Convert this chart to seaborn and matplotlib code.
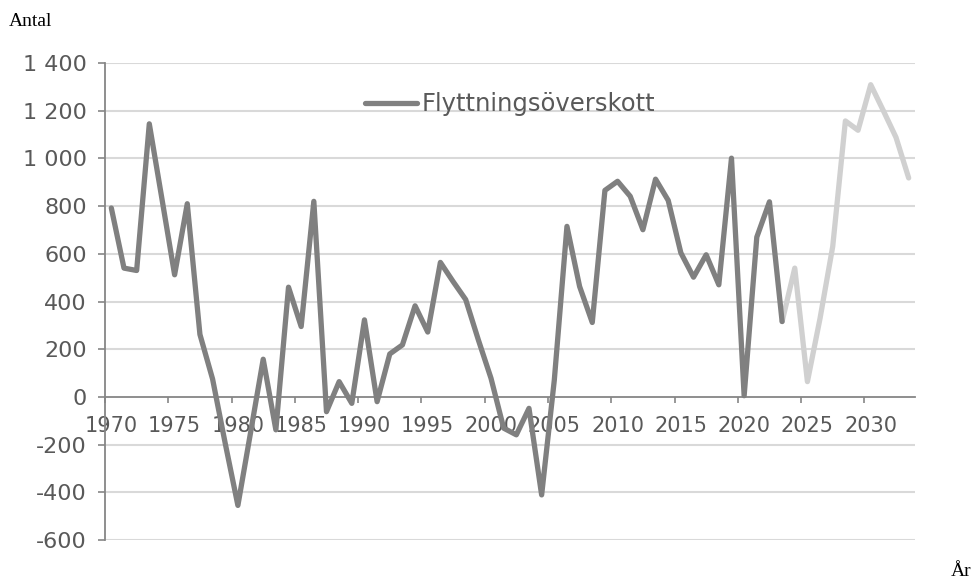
import matplotlib
matplotlib.use("Agg")
import matplotlib.pyplot as plt
import matplotlib.ticker as mticker
import seaborn as sns
import pandas as pd

# ---- data ----
hist_years = list(range(1970, 2024))
hist_values = [792, 540, 530, 1145, 830, 512, 810, 262, 75, -195,
               -455, -150, 158, -138, 460, 295, 820, -62, 64, -27,
               323, -20, 180, 218, 382, 272, 564, 484, 408, 239,
               78, -131, -159, -48, -411, 70, 715, 463, 312, 866,
               904, 841, 701, 913, 824, 604, 502, 596, 470, 1001,
               5, 670, 818, 316]
proj_years = list(range(2023, 2034))
proj_values = [316, 540, 64, 330, 631, 1157, 1118, 1309, 1200, 1088, 918]
series_label = "Flyttningsöverskott"
y_label = "Antal"
x_label = "År"
y_ticks = [-600, -400, -200, 0, 200, 400, 600, 800, 1000, 1200, 1400]
x_label_years = list(range(1970, 2031, 5))

hist_df = pd.DataFrame({"year": hist_years, "value": hist_values})
proj_df = pd.DataFrame({"year": proj_years, "value": proj_values})

sns.set_style("white")
plt.rcParams["font.family"] = ["DejaVu Sans"]

fig = plt.figure(figsize=(9.74, 5.83), dpi=100)
ax = fig.add_axes([105 / 974, 1 - 540 / 583, 810 / 974, 477 / 583])

grid_c = "#d9d9d9"
axis_c = "#868686"
text_c = "#595959"

for v in y_ticks:
    if v != 0:
        ax.axhline(v, color=grid_c, lw=1.5, zorder=0)

sns.lineplot(data=proj_df, x="year", y="value", ax=ax, color="#d0d0d0",
             lw=3.8, zorder=3, legend=False,
             solid_capstyle="round", solid_joinstyle="round")
sns.lineplot(data=hist_df, x="year", y="value", ax=ax, color="#808080",
             lw=3.8, zorder=4, label=series_label,
             solid_capstyle="round", solid_joinstyle="round")

ax.set_xlim(1969.5, 2033.5)
ax.set_ylim(-600, 1400)

# y axis
ax.set_yticks(y_ticks)
ax.yaxis.set_major_formatter(mticker.FuncFormatter(
    lambda v, p: f"{int(v):,}".replace(",", " ")))
ax.tick_params(axis="y", which="major", length=5, width=1.2, color=axis_c,
               labelsize=16, labelcolor=text_c, pad=8, left=True)

# x axis: spine at zero, ticks between categories, labels at categories
ax.spines["bottom"].set_position(("data", 0))
ax.set_xticks(x_label_years)
ax.set_xticklabels([str(y) for y in x_label_years])
ax.set_xticks([y - 0.5 for y in x_label_years], minor=True)
ax.tick_params(axis="x", which="major", length=0, labelsize=15,
               labelcolor=text_c, pad=14)
ax.tick_params(axis="x", which="minor", length=4, width=1.2, color=axis_c,
               bottom=True, direction="out")

for s in ["top", "right"]:
    ax.spines[s].set_visible(False)
for s in ["left", "bottom"]:
    ax.spines[s].set_color(axis_c)
    ax.spines[s].set_linewidth(1.3)
ax.set_xlabel("")
ax.set_ylabel("")

leg = ax.legend(loc="center left", bbox_to_anchor=(0.3205, 0.914),
                frameon=False, fontsize=17.5, handlelength=2.15,
                handletextpad=0.2, borderpad=0, borderaxespad=0)
for t in leg.get_texts():
    t.set_color(text_c)

fig.text(9 / 974, 1 - 26 / 583, y_label, family=["Liberation Serif"],
         fontsize=14, color="black", va="baseline", ha="left")
fig.text(971 / 974, 1 - 576 / 583, x_label, family=["Liberation Serif"],
         fontsize=14, color="black", va="baseline", ha="right")

fig.savefig("out.png", dpi=100)
